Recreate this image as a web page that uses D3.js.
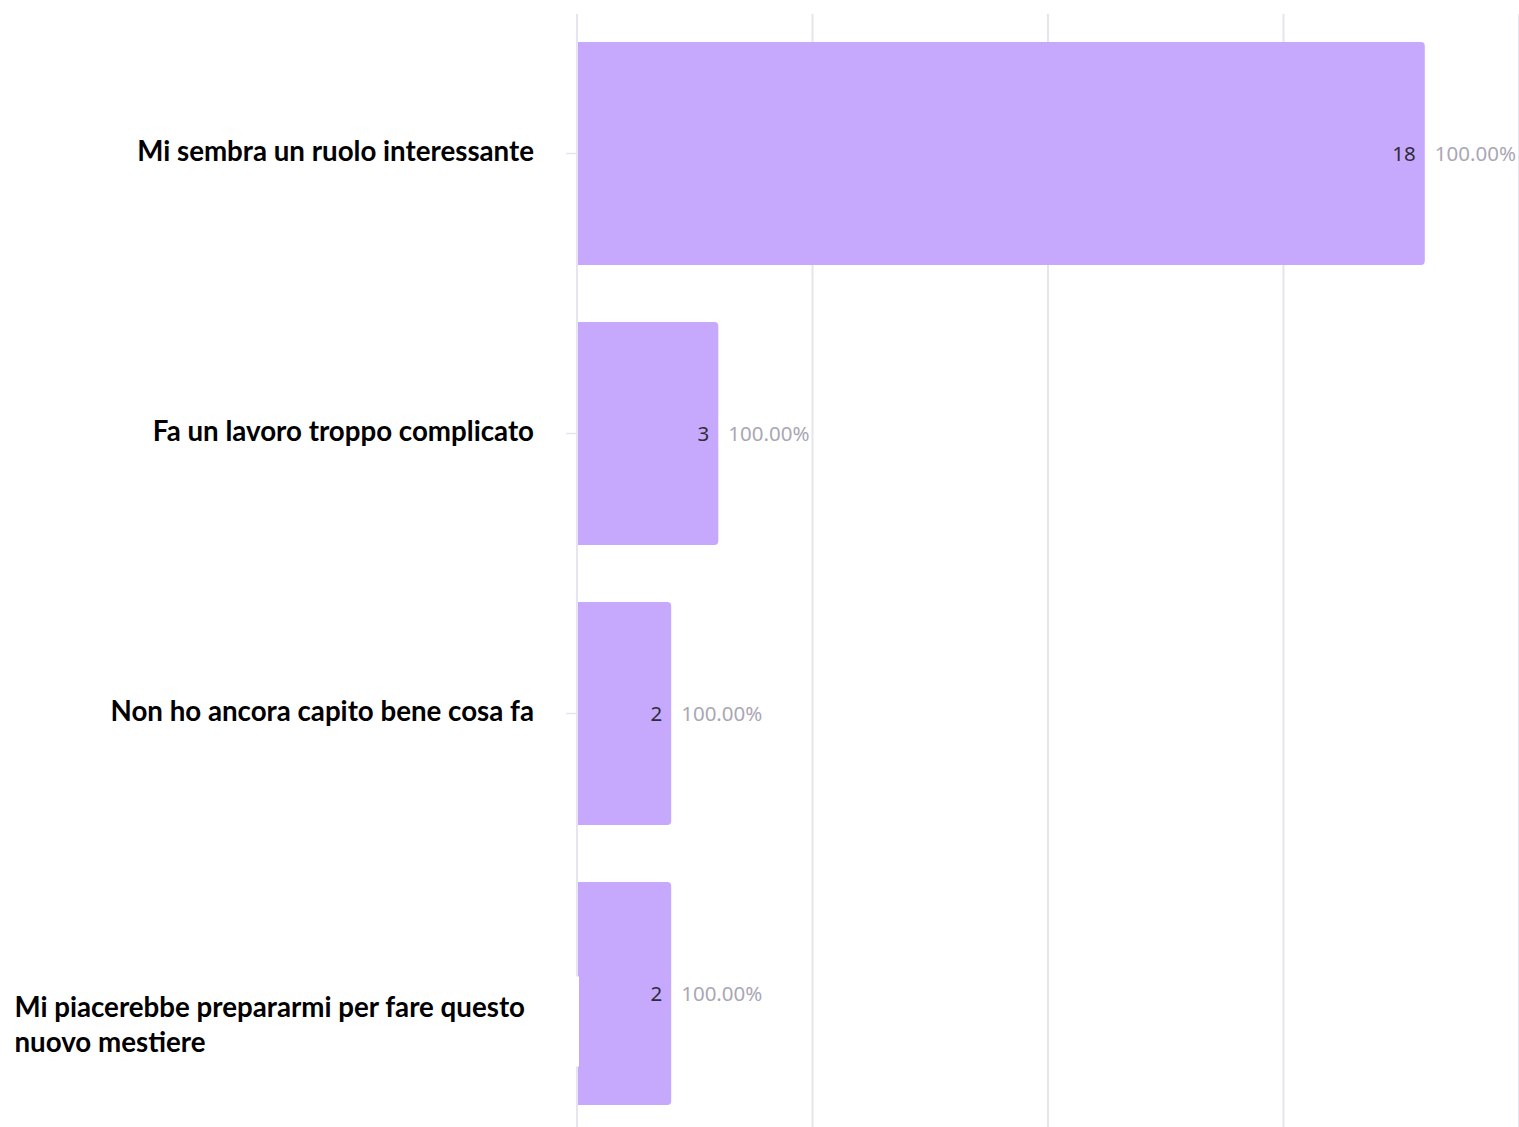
<!DOCTYPE html>
<html><head><meta charset="utf-8">
<script src="https://cdn.jsdelivr.net/npm/d3@7"></script>
<style>html,body{margin:0;padding:0;background:#fff;overflow:hidden}</style>
</head><body><svg id="c" width="1519" height="1127"></svg>
<script>
const categories = ["Mi sembra un ruolo interessante","Fa un lavoro troppo complicato","Non ho ancora capito bene cosa fa","Mi piacerebbe prepararmi per fare questo nuovo mestiere"];
const labelLines = [["Mi sembra un ruolo interessante"],["Fa un lavoro troppo complicato"],["Non ho ancora capito bene cosa fa"],["Mi piacerebbe prepararmi per fare questo","nuovo mestiere"]];
const values = [18, 3, 2, 2];
const percents = ["100.00%","100.00%","100.00%","100.00%"];
const xTicks = [0, 5, 10, 15, 20];

const svg = d3.select("#c");
const x = d3.scaleLinear().domain([0,20]).range([577,1519]);
const y = d3.scaleBand().domain(categories).range([13.5,1133.5]).paddingInner(0.2036).paddingOuter(0.1018);

// gridlines
svg.append("g").selectAll("line").data(xTicks).join("line")
  .attr("x1",d=>x(d)).attr("x2",d=>x(d)).attr("y1",14).attr("y2",1127)
  .attr("stroke","#e6e4ee").attr("stroke-width",2);

// tick marks
svg.append("g").selectAll("line").data(categories).join("line")
  .attr("x1",566).attr("x2",577).attr("y1",d=>y(d)+y.bandwidth()/2).attr("y2",d=>y(d)+y.bandwidth()/2)
  .attr("stroke","#e6e4ee").attr("stroke-width",1.5);

// bars with rounded right corners
const r = 4;
svg.append("g").selectAll("path").data(categories).join("path")
  .attr("d",(d,i)=>{
    const x0=x(0)+1, x1=x(values[i]), y0=y(d), y1=y(d)+y.bandwidth();
    return `M${x0},${y0}H${x1-r}Q${x1},${y0} ${x1},${y0+r}V${y1-r}Q${x1},${y1} ${x1-r},${y1}H${x0}Z`;
  })
  .attr("fill","#c6a9fd");

// value labels
const vl = svg.append("g").attr("font-family","'Noto Sans', 'Open Sans', sans-serif").attr("font-size",20.5);
vl.selectAll("text.v").data(categories).join("text").attr("class","v")
  .attr("x",(d,i)=>x(values[i])-9).attr("y",d=>y(d)+y.bandwidth()/2).attr("dy","0.36em")
  .attr("text-anchor","end").attr("fill","#2e2c3a").text((d,i)=>values[i]);
vl.selectAll("text.p").data(categories).join("text").attr("class","p")
  .attr("x",(d,i)=>x(values[i])+10).attr("y",d=>y(d)+y.bandwidth()/2).attr("dy","0.36em")
  .attr("text-anchor","start").attr("fill","#a9a7b5").text((d,i)=>percents[i]);

// category labels
const lg = svg.append("g").attr("font-family","Lato, 'Open Sans', sans-serif").attr("font-weight","bold").attr("font-size",27.7).attr("fill","#000");
categories.forEach((c,i)=>{
  const lines = labelLines[i];
  const cy = y(c)+y.bandwidth()/2;
  const lh = 35;
  const g = lg.append("g");
  if (lines.length>1) {
    g.append("rect").attr("x",0).attr("y",cy-17).attr("width",579).attr("height",90).attr("fill","#fff");
  }
  const t = g.append("text");
  lines.forEach((ln,j)=>{
    t.append("tspan").attr("x",0).attr("y",cy + (j-(lines.length-1)/2)*lh + (lines.length>1?31:-2)).attr("dy","0.35em").text(ln);
  });
  const w = t.node().getBBox().width;
  t.selectAll("tspan").attr("x",(lines.length>1?525:534)-w);
});
</script></body></html>
